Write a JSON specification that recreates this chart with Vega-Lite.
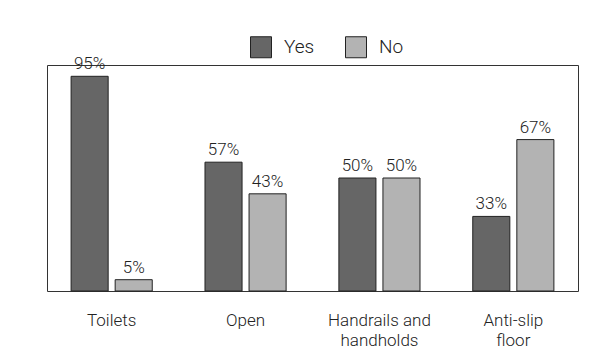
{
  "$schema": "https://vega.github.io/schema/vega-lite/v6.json",
  "width": 531,
  "height": 226,
  "autosize": {"type": "none"},
  "padding": {"left": 47, "top": 65, "right": 36, "bottom": 72},
  "background": "white",
  "config": {
    "font": "Roboto",
    "view": {"stroke": "#333333", "strokeWidth": 1}
  },
  "data": {
    "values": [
      {"category": "Toilets", "answer": "Yes", "value": 0.95},
      {"category": "Toilets", "answer": "No", "value": 0.05},
      {"category": "Open", "answer": "Yes", "value": 0.57},
      {"category": "Open", "answer": "No", "value": 0.43},
      {"category": "Handrails and handholds", "answer": "Yes", "value": 0.50},
      {"category": "Handrails and handholds", "answer": "No", "value": 0.50},
      {"category": "Anti-slip floor", "answer": "Yes", "value": 0.33},
      {"category": "Anti-slip floor", "answer": "No", "value": 0.67}
    ]
  },
  "encoding": {
    "x": {
      "field": "category",
      "type": "nominal",
      "sort": null,
      "scale": {"paddingInner": 0.394, "paddingOuter": 0.18},
      "axis": {
        "title": null,
        "domain": false,
        "ticks": false,
        "grid": false,
        "labelAngle": 0,
        "labelFont": "Roboto",
        "labelFontWeight": 300,
        "labelFontSize": 17,
        "labelColor": "#222222",
        "labelPadding": 21,
        "labelLineHeight": 20,
        "labelBaseline": "top",
        "labelExpr": "datum.value == 'Handrails and handholds' ? ['Handrails and', 'handholds'] : datum.value == 'Anti-slip floor' ? ['Anti-slip', 'floor'] : datum.value"
      }
    },
    "xOffset": {
      "field": "answer",
      "type": "nominal",
      "sort": ["Yes", "No"],
      "scale": {"paddingInner": 0.159, "paddingOuter": 0}
    },
    "y": {
      "field": "value",
      "type": "quantitative",
      "scale": {"domain": [0, 1], "nice": false},
      "axis": null
    }
  },
  "layer": [
    {
      "mark": {"type": "bar", "stroke": "#222222", "strokeWidth": 1},
      "encoding": {
        "color": {
          "field": "answer",
          "type": "nominal",
          "sort": ["Yes", "No"],
          "scale": {"domain": ["Yes", "No"], "range": ["#666666", "#b3b3b3"]},
          "legend": {
            "title": null,
            "orient": "none",
            "direction": "horizontal",
            "legendX": 203,
            "legendY": -29,
            "symbolType": "square",
            "symbolSize": 441,
            "symbolStrokeColor": "#222222",
            "symbolStrokeWidth": 1,
            "symbolOpacity": 1,
            "labelFont": "Roboto",
            "labelFontWeight": 300,
            "labelFontSize": 19,
            "labelColor": "#222222",
            "labelOffset": 12,
            "columnPadding": 28
          }
        }
      }
    },
    {
      "mark": {"type": "text", "baseline": "alphabetic", "dy": -7, "fontSize": 17, "font": "Roboto", "fontWeight": 300, "color": "#222222"},
      "encoding": {
        "text": {"field": "value", "type": "quantitative", "format": ".0%"},
        "detail": {"field": "answer"}
      }
    }
  ]
}
